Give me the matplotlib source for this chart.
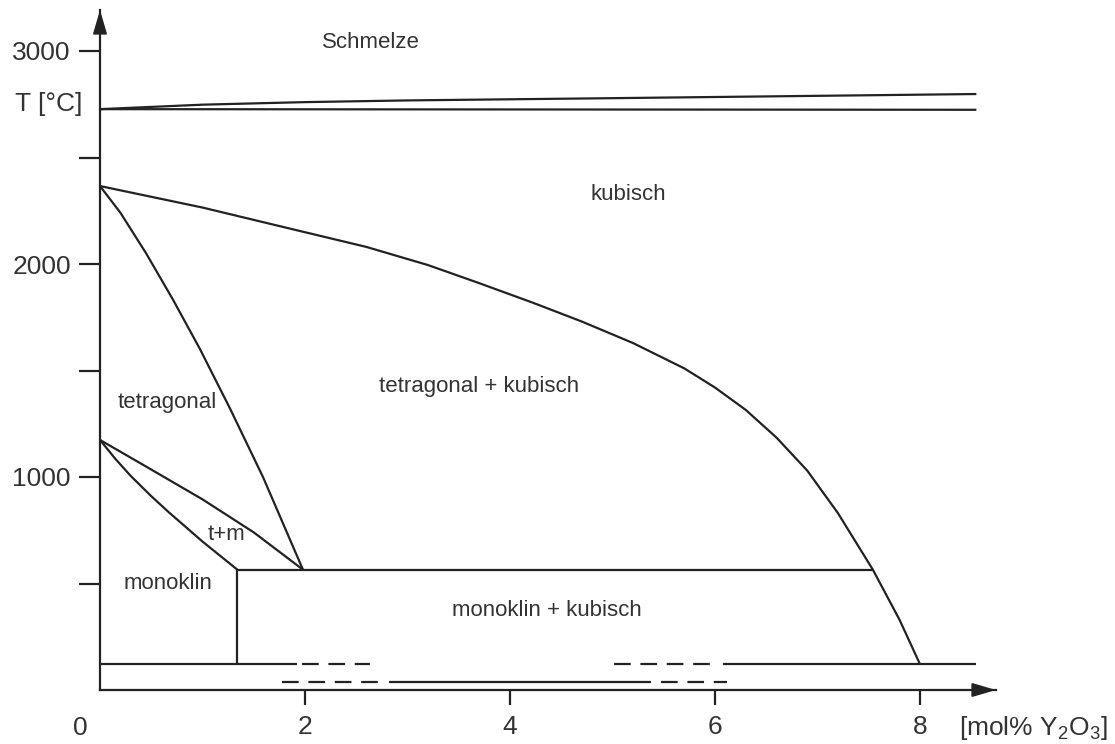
import matplotlib.pyplot as plt
import numpy as np

plt.rcParams['font.family'] = ['Liberation Sans', 'DejaVu Sans']
plt.rcParams['mathtext.fontset'] = 'custom'
plt.rcParams['mathtext.rm'] = 'Liberation Sans'
plt.rcParams['mathtext.it'] = 'Liberation Sans:italic'
plt.rcParams['lines.scale_dashes'] = False

INK = '#222222'
TXT = '#333333'

# Phasengrenzen ZrO2 - Y2O3: Zusammensetzung [mol% Y2O3], Temperatur [°C]
liquidus_x = [0, 1.0, 2.0, 3.0, 4.9, 8.55]
liquidus_t = [2727, 2748, 2760, 2768, 2778, 2798]
solidus_x = [0, 8.55]
solidus_t = [2727, 2724]

kubisch_x = [0, 1.0, 1.95, 2.6, 3.2, 3.7, 4.23, 4.7, 5.2, 5.7, 6.0, 6.3, 6.6, 6.9, 7.2, 7.54, 7.8, 8.0]
kubisch_t = [2366, 2265, 2155, 2080, 1995, 1910, 1817, 1730, 1629, 1510, 1420, 1315, 1185, 1030, 830, 565, 330, 121]

tetragonal_x = [0, 0.2, 0.45, 0.715, 0.976, 1.27, 1.59, 1.98]
tetragonal_t = [2366, 2240, 2050, 1830, 1600, 1320, 1000, 565]

tm_oben_x = [0, 0.5, 1.0, 1.5, 1.98]
tm_oben_t = [1174, 1035, 895, 740, 565]
tm_unten_x = [0, 0.15, 0.3, 0.5, 0.67, 1.0, 1.34]
tm_unten_t = [1174, 1085, 1005, 910, 835, 697, 565]

eutektoid_t = 565
eutektoid_x = [1.34, 7.54]
monoklin_grenze_x = 1.34
rt_oben_t = 122
rt_unten_t = 37

# gestrichelte und durchgezogene Abschnitte der unteren Linien
rt_oben_solid = [(0, 1.92), (6.08, 8.55)]
rt_oben_dash = [(1.97, 2.63), (5.01, 6.03)]
rt_unten_solid = [(2.82, 5.38)]
rt_unten_dash = [(1.78, 2.76), (5.47, 6.12)]

phasen = [
    ('Schmelze', 2.64, 3038),
    ('kubisch', 5.15, 2324),
    ('tetragonal + kubisch', 3.70, 1423),
    ('tetragonal', 0.66, 1352),
    ('t+m', 1.23, 728),
    ('monoklin', 0.66, 502),
    ('monoklin + kubisch', 4.36, 375),
]

y_ticks = [500, 1000, 1500, 2000, 2500, 3000]
y_ticklabels = ['', '1000', '', '2000', '', '3000']
x_ticks = [2, 4, 6, 8]

fig = plt.figure(figsize=(11.15, 7.44), dpi=100)
ax = fig.add_axes([100 / 1115, 54 / 744, 896 / 1115, 680 / 744])
ax.set_xlim(0, 896 / 102.5)
ax.set_ylim(0, 680 / 0.213)

kw = dict(color=INK, lw=1.6, solid_capstyle='butt', solid_joinstyle='round')
ax.plot(liquidus_x, liquidus_t, **kw)
ax.plot(solidus_x, solidus_t, **kw)
ax.plot(kubisch_x, kubisch_t, **kw)
ax.plot(tetragonal_x, tetragonal_t, **kw)
ax.plot(tm_oben_x, tm_oben_t, **kw)
ax.plot(tm_unten_x, tm_unten_t, **kw)
ax.plot(eutektoid_x, [eutektoid_t] * 2, **kw)
ax.plot([monoklin_grenze_x] * 2, [rt_oben_t, eutektoid_t], **kw)

for a, b in rt_oben_solid:
    ax.plot([a, b], [rt_oben_t] * 2, **kw)
for a, b in rt_unten_solid:
    ax.plot([a, b], [rt_unten_t] * 2, **kw)
for a, b in rt_oben_dash:
    ax.plot([a, b], [rt_oben_t] * 2, color=INK, lw=1.6, ls=(0, (12, 7)))
for a, b in rt_unten_dash:
    ax.plot([a, b], [rt_unten_t] * 2, color=INK, lw=1.6, ls=(0, (12, 7)))

for name, x, t in phasen:
    ax.text(x, t, name, fontsize=16, color=TXT, ha='center', va='center')

# Achsen mit Pfeilspitzen
for s in ['top', 'right']:
    ax.spines[s].set_visible(False)
for s in ['left', 'bottom']:
    ax.spines[s].set_color(INK)
    ax.spines[s].set_linewidth(1.6)

arrow = dict(arrowstyle='-|>,head_length=0.75,head_width=0.22', mutation_scale=20,
             color=INK, lw=1.2, shrinkA=0, shrinkB=0)
ax.annotate('', xy=(0, 1), xycoords='axes fraction', xytext=(0, 0.95), arrowprops=arrow)
ax.annotate('', xy=(1, 0), xycoords='axes fraction', xytext=(0.95, 0), arrowprops=arrow)

ax.set_yticks(y_ticks)
ax.set_yticklabels(y_ticklabels)
ax.tick_params(axis='y', direction='out', length=15, width=1.6, color=INK,
               labelsize=19, labelcolor=TXT, pad=6)
ax.set_xticks(x_ticks)
ax.set_xticklabels([str(v) for v in x_ticks])
ax.tick_params(axis='x', direction='out', length=11, width=1.6, color=INK,
               labelsize=19, labelcolor=TXT, pad=7)

ax.text(-0.195, -180, '0', fontsize=19, color=TXT, ha='center', va='center', clip_on=False)
ax.text(9.83, -180, '[mol% Y$_2$O$_3$]', fontsize=19, color=TXT, ha='right', va='center',
        clip_on=False)
ax.text(-0.50, 2751, 'T [°C]', fontsize=19, color=TXT, ha='center', va='center',
        clip_on=False)

fig.savefig('out.png', dpi=100)
